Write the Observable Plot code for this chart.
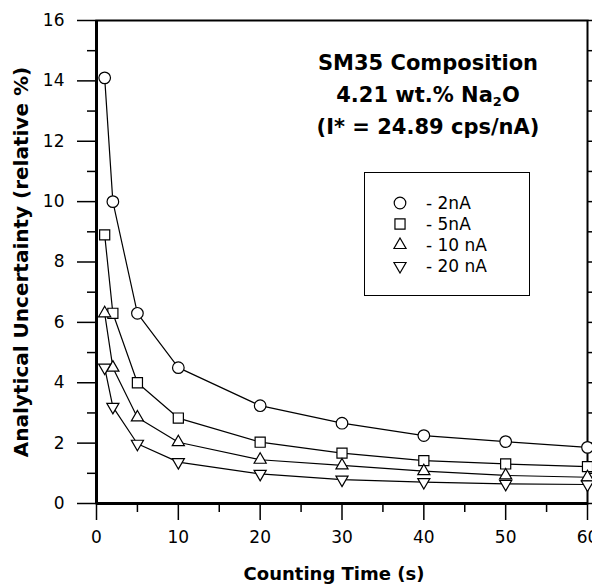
<!DOCTYPE html>
<html>
<head>
<meta charset="utf-8">
<script src="https://cdn.jsdelivr.net/npm/d3@7"></script>
<script src="https://cdn.jsdelivr.net/npm/@observablehq/plot@0.6"></script>
<style>
  body { margin: 0; background: #fff; overflow: hidden; font-family: "DejaVu Sans", sans-serif; }
  #wrap { position: relative; width: 592px; height: 588px; }
  #title { position: absolute; left: 428px; top: 47px; transform: translateX(-50%); white-space: nowrap;
           text-align: center; font-weight: bold; font-size: 21px; line-height: 32px; color: #000; }
  #title sub { font-size: 13px; vertical-align: -4px; line-height: 0; }
  #legend { position: absolute; left: 364px; top: 172px; width: 166px; height: 124px; box-sizing: border-box;
            border: 1px solid #000; background: #fff; padding-top: 19px; }
  .row { display: flex; align-items: center; height: 21px; font-size: 17px; color: #000; }
  .row svg { margin-left: 27px; width: 16px; height: 16px; }
  .row span { margin-left: 18px; }
</style>
</head>
<body>
<div id="wrap">
  <div id="chart"></div>
  <div id="title">SM35 Composition<br>4.21 wt.% Na<sub>2</sub>O<br>(I* = 24.89 cps/nA)</div>
  <div id="legend"></div>
</div>
<script>
const times = [1, 2, 5, 10, 20, 30, 40, 50, 60];
const seriesNames = ["- 2nA", "- 5nA", "- 10 nA", "- 20 nA"];
const u2nA  = [14.1, 10.0, 6.3, 4.5, 3.24, 2.66, 2.25, 2.05, 1.86];
const u5nA  = [8.9, 6.3, 4.0, 2.83, 2.03, 1.67, 1.42, 1.31, 1.22];
const u10nA = [6.3, 4.5, 2.85, 2.03, 1.45, 1.26, 1.07, 0.93, 0.87];
const u20nA = [4.5, 3.2, 1.98, 1.37, 0.98, 0.79, 0.71, 0.65, 0.63];
const xMajor = [0, 10, 20, 30, 40, 50, 60];
const xMinor = [5, 15, 25, 35, 45, 55];
const yMajor = [0, 2, 4, 6, 8, 10, 12, 14, 16];
const yMinor = [1, 3, 5, 7, 9, 11, 13, 15];
const yRight = [0, 1, 2, 3, 4, 5, 6, 7, 8, 9, 10, 11, 12, 13, 14, 15, 16];

const values = [u2nA, u5nA, u10nA, u20nA];
const data = seriesNames.flatMap((s, i) => times.map((t, j) => ({series: s, t, u: values[i][j]})));

const triangleDown = {
  draw(ctx, size) {
    const s3 = Math.sqrt(3);
    const y = -Math.sqrt(size / (s3 * 3));
    ctx.moveTo(0, -y * 2);
    ctx.lineTo(-s3 * y, y);
    ctx.lineTo(s3 * y, y);
    ctx.closePath();
  }
};
const symbols = [d3.symbolCircle, d3.symbolSquare, d3.symbolTriangle, triangleDown];
const radii = [5.8, 5.7, 4.5, 4.5];

const chart = Plot.plot({
  width: 592, height: 588,
  marginLeft: 96, marginRight: 5, marginTop: 20, marginBottom: 85,
  x: {domain: [0, 60]},
  y: {domain: [0, 16]},
  style: {fontFamily: "'DejaVu Sans', sans-serif", fontSize: "17px", color: "#000", background: "transparent", overflow: "visible"},
  marks: [
    Plot.axisY(yMajor, {anchor: "left", tickSize: 19, tickPadding: 13, strokeWidth: 1.5, label: null, fontSize: 17}),
    Plot.axisY(yMinor, {anchor: "left", tickSize: 9, strokeWidth: 1.5, tickFormat: () => "", label: null}),
    Plot.axisY(yRight, {anchor: "right", tickSize: 6, strokeWidth: 1.5, tickFormat: () => "", label: null}),
    Plot.axisX(xMajor, {anchor: "bottom", tickSize: 17, tickPadding: 10, strokeWidth: 1.5, label: null, fontSize: 17}),
    Plot.axisX(xMinor, {anchor: "bottom", tickSize: 9, strokeWidth: 1.5, tickFormat: () => "", label: null}),
    Plot.frame({stroke: "#000", strokeWidth: 2}),
    Plot.ruleX([0], {stroke: "#000", strokeWidth: 3}),
    Plot.ruleY([0], {stroke: "#000", strokeWidth: 3}),
    Plot.line(data, {x: "t", y: "u", z: "series", stroke: "#000", strokeWidth: 1.2}),
    ...seriesNames.map((s, i) => Plot.dot(data.filter(d => d.series === s), {
      x: "t", y: "u", symbol: symbols[i], r: radii[i], fill: "#fff", stroke: "#000", strokeWidth: 1.2
    })),
    Plot.text(["Counting Time (s)"], {frameAnchor: "bottom", textAnchor: "middle", dy: 76, dx: -8, fontWeight: "bold", fontSize: 18}),
    Plot.text(["Analytical Uncertainty (relative %)"], {frameAnchor: "left", textAnchor: "middle", dx: -75, rotate: -90, fontWeight: "bold", fontSize: 20})
  ]
});
document.getElementById("chart").appendChild(chart);

const legend = document.getElementById("legend");
seriesNames.forEach((s, i) => {
  const row = document.createElement("div");
  row.className = "row";
  const path = d3.symbol(symbols[i], Math.PI * radii[i] * radii[i])();
  row.innerHTML = `<svg viewBox="-8 -8 16 16"><path d="${path}" fill="#fff" stroke="#000" stroke-width="1.2"/></svg><span>${s}</span>`;
  legend.appendChild(row);
});
</script>
</body>
</html>
